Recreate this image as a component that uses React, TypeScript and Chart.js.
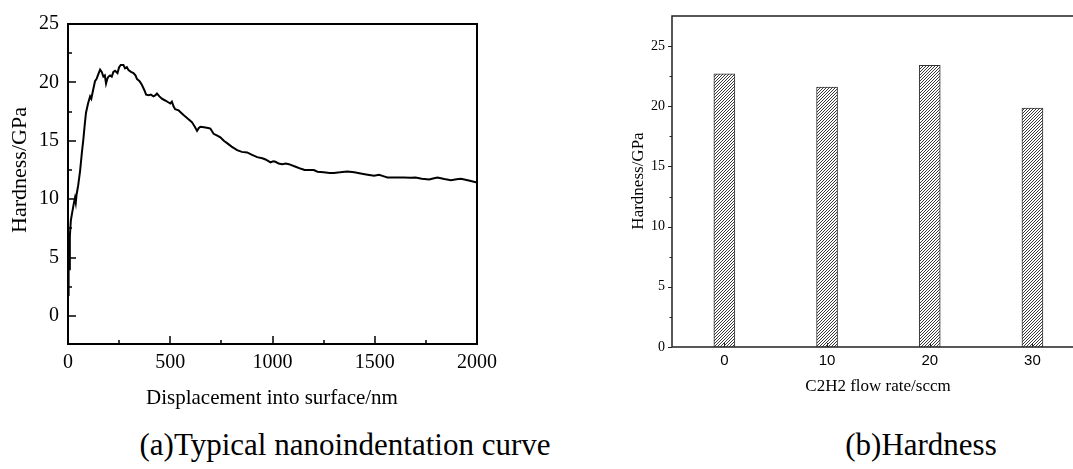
import React, { useEffect, useRef } from "react";
import { Chart, registerables } from "chart.js";

Chart.register(...registerables);

// ---------- (a) nanoindentation curve ----------
const dispX = [
  1, 2, 3, 4, 6, 9, 14, 20, 28, 34, 38, 42, 50, 59, 68, 75, 82, 88, 98, 108,
  114, 121, 132, 140, 146, 157, 165, 173, 180, 186, 192, 198, 206, 214, 222,
  230, 242, 250, 258, 271, 279, 288, 296, 308, 320, 330, 337, 350, 361, 373,
  382, 395, 405, 418, 428, 435, 447, 459, 475, 490, 500, 508, 516, 524, 541,
  553, 565, 585, 606, 620, 631, 640, 647, 665, 685, 696, 712, 730, 745, 762,
  778, 800, 827, 850, 876, 900, 925, 950, 966, 990, 1003, 1015, 1030, 1047,
  1065, 1080, 1110, 1140, 1157, 1180, 1202, 1220, 1250, 1280, 1300, 1330,
  1366, 1400, 1431, 1465, 1497, 1521, 1545, 1562, 1600, 1640, 1676, 1700,
  1730, 1766, 1790, 1807, 1840, 1873, 1900, 1922, 1960, 2000,
];
const hardY = [
  1.8, 4.5, 2.8, 5.2, 4.0, 6.8, 8.2, 8.8, 9.6, 10.1, 9.7, 10.4, 11.2, 12.4,
  14.0, 15.1, 16.4, 17.4, 18.2, 18.8, 18.6, 19.2, 20.1, 20.3, 20.6, 21.1, 20.9,
  20.5, 20.6, 19.9, 20.3, 20.5, 20.6, 20.5, 20.9, 21.0, 20.8, 21.3, 21.5, 21.5,
  21.2, 21.3, 21.05, 20.9, 20.8, 20.6, 20.3, 20.1, 19.8, 19.35, 18.95, 18.9,
  18.95, 18.8, 18.9, 19.05, 18.8, 18.6, 18.45, 18.3, 18.2, 18.35, 17.95, 17.7,
  17.6, 17.4, 17.2, 16.9, 16.6, 16.2, 15.85, 16.1, 16.2, 16.15, 16.1, 16.05,
  15.6, 15.45, 15.3, 15.0, 14.8, 14.5, 14.2, 14.05, 14.0, 13.8, 13.6, 13.5,
  13.4, 13.15, 13.25, 13.2, 13.05, 13.0, 13.05, 13.0, 12.8, 12.6, 12.5, 12.5,
  12.5, 12.35, 12.3, 12.25, 12.25, 12.3, 12.38, 12.3, 12.2, 12.1, 12.0, 12.08,
  11.95, 11.86, 11.85, 11.85, 11.83, 11.85, 11.75, 11.69, 11.8, 11.86, 11.72,
  11.63, 11.7, 11.74, 11.6, 11.43,
];
const leftXMajor = [0, 500, 1000, 1500, 2000];
const leftXMinor = [250, 750, 1250, 1750];
const leftYMajor = [0, 5, 10, 15, 20, 25];
const leftYMinor = [2.5, 7.5, 12.5, 17.5, 22.5];

// ---------- (b) hardness bars ----------
const flowRates = [0, 10, 20, 30];
const hardness = [22.7, 21.6, 23.4, 19.85];
const rightYMajor = [0, 5, 10, 15, 20, 25];
const rightYMinor = [2.5, 7.5, 12.5, 17.5, 22.5];

const SERIF = "'Liberation Serif', 'Times New Roman', serif";
const SANS = "'Liberation Sans', Arial, sans-serif";

const plain = (v: any) => String(v);

const leftDecor = {
  id: "leftDecor",
  afterDraw(chart: any) {
    const { ctx, chartArea: a, scales } = chart;
    const xs = scales.x;
    const ys = scales.y;
    ctx.save();
    ctx.strokeStyle = "#000";
    ctx.lineWidth = 2;
    ctx.strokeRect(a.left, a.top, a.right - a.left, a.bottom - a.top);
    ctx.lineWidth = 1.5;
    ctx.beginPath();
    leftXMajor.forEach((v) => {
      const p = Math.round(xs.getPixelForValue(v));
      ctx.moveTo(p, a.bottom);
      ctx.lineTo(p, a.bottom - 8);
    });
    leftXMinor.forEach((v) => {
      const p = Math.round(xs.getPixelForValue(v));
      ctx.moveTo(p, a.bottom);
      ctx.lineTo(p, a.bottom - 4);
    });
    leftYMajor.forEach((v) => {
      const p = Math.round(ys.getPixelForValue(v));
      ctx.moveTo(a.left, p);
      ctx.lineTo(a.left + 8, p);
    });
    leftYMinor.forEach((v) => {
      const p = Math.round(ys.getPixelForValue(v));
      ctx.moveTo(a.left, p);
      ctx.lineTo(a.left + 4, p);
    });
    ctx.stroke();

    ctx.fillStyle = "#000";
    ctx.textAlign = "center";
    ctx.textBaseline = "middle";
    ctx.font = `21px ${SERIF}`;
    ctx.fillText("Displacement into surface/nm", 272, 398);
    ctx.translate(20, 170);
    ctx.rotate(-Math.PI / 2);
    ctx.font = `22px ${SERIF}`;
    ctx.fillText("Hardness/GPa", 0, 0);
    ctx.restore();
  },
};

const rightDecor = {
  id: "rightDecor",
  afterDraw(chart: any) {
    const { ctx, chartArea: a, scales } = chart;
    const xs = scales.x;
    const ys = scales.y;
    ctx.save();
    ctx.strokeStyle = "#222";
    ctx.lineWidth = 1.5;
    ctx.beginPath();
    ctx.moveTo(a.right + 2, a.top);
    ctx.lineTo(a.left, a.top);
    ctx.lineTo(a.left, a.bottom);
    ctx.lineTo(a.right + 2, a.bottom);
    ctx.stroke();
    ctx.lineWidth = 1;
    ctx.beginPath();
    rightYMajor.forEach((v) => {
      const p = Math.round(ys.getPixelForValue(v)) + 0.5;
      ctx.moveTo(a.left, p);
      ctx.lineTo(a.left - 4, p);
    });
    rightYMinor.forEach((v) => {
      const p = Math.round(ys.getPixelForValue(v)) + 0.5;
      ctx.moveTo(a.left, p);
      ctx.lineTo(a.left - 2.5, p);
    });
    flowRates.forEach((v) => {
      const p = Math.round(xs.getPixelForValue(v)) + 0.5;
      ctx.moveTo(p, a.bottom);
      ctx.lineTo(p, a.bottom - 4);
    });
    ctx.stroke();

    ctx.fillStyle = "#000";
    ctx.textAlign = "center";
    ctx.textBaseline = "middle";
    ctx.font = `17px ${SERIF}`;
    ctx.fillText("C2H2 flow rate/sccm", 318, 387);
    ctx.translate(79, 181);
    ctx.rotate(-Math.PI / 2);
    ctx.fillText("Hardness/GPa", 0, 0);
    ctx.restore();
  },
};

function makeHatch(ctx: CanvasRenderingContext2D) {
  const s = 3;
  const c = document.createElement("canvas");
  c.width = s;
  c.height = s;
  const g = c.getContext("2d")!;
  g.fillStyle = "#fff";
  g.fillRect(0, 0, s, s);
  g.strokeStyle = "#222";
  g.lineWidth = 0.9;
  g.beginPath();
  g.moveTo(0, s);
  g.lineTo(s, 0);
  g.moveTo(-1, 1);
  g.lineTo(1, -1);
  g.moveTo(s - 1, s + 1);
  g.lineTo(s + 1, s - 1);
  g.stroke();
  return ctx.createPattern(c, "repeat");
}

export default function App() {
  const leftRef = useRef<HTMLCanvasElement>(null);
  const rightRef = useRef<HTMLCanvasElement>(null);

  useEffect(() => {
    const left = new Chart(leftRef.current!, {
      type: "line",
      data: {
        datasets: [
          {
            data: dispX.map((x, i) => ({ x, y: hardY[i] })),
            borderColor: "#000",
            borderWidth: 2,
            pointRadius: 0,
            tension: 0,
            fill: false,
          },
        ],
      },
      options: {
        animation: false,
        responsive: false,
        devicePixelRatio: 1,
        layout: { padding: { left: 0, top: 24, right: 63, bottom: 0 } },
        plugins: { legend: { display: false }, tooltip: { enabled: false } },
        scales: {
          x: {
            type: "linear",
            min: 0,
            max: 2000,
            grid: { display: false, drawTicks: false },
            border: { display: false },
            ticks: {
              font: { family: SERIF, size: 20 },
              color: "#000",
              padding: 7,
              autoSkip: false,
              maxRotation: 0,
              callback: plain,
            },
            afterBuildTicks: (s: any) => {
              s.ticks = leftXMajor.map((v) => ({ value: v }));
            },
            afterFit: (s: any) => {
              s.height = 76;
            },
          },
          y: {
            type: "linear",
            min: -2.4,
            max: 25,
            grid: { display: false, drawTicks: false },
            border: { display: false },
            ticks: {
              font: { family: SERIF, size: 20 },
              color: "#000",
              padding: 9,
              autoSkip: false,
              callback: plain,
            },
            afterBuildTicks: (s: any) => {
              s.ticks = leftYMajor.map((v) => ({ value: v }));
            },
            afterFit: (s: any) => {
              s.width = 68;
            },
          },
        },
      } as any,
      plugins: [leftDecor],
    });

    const rctx = rightRef.current!.getContext("2d")!;
    const hatch = makeHatch(rctx);
    const right = new Chart(rightRef.current!, {
      type: "bar",
      data: {
        datasets: [
          {
            data: flowRates.map((x, i) => ({ x, y: hardness[i] })),
            backgroundColor: hatch as any,
            borderColor: "#333",
            borderWidth: 1,
            barThickness: 21,
          },
        ],
      },
      options: {
        animation: false,
        responsive: false,
        devicePixelRatio: 1,
        layout: { padding: { left: 0, top: 16, right: 0, bottom: 0 } },
        plugins: { legend: { display: false }, tooltip: { enabled: false } },
        scales: {
          x: {
            type: "linear",
            min: -5.1,
            max: 33.95,
            offset: false,
            grid: { display: false, drawTicks: false },
            border: { display: false },
            ticks: {
              font: { family: SANS, size: 15 },
              color: "#000",
              padding: 5,
              autoSkip: false,
              maxRotation: 0,
              callback: plain,
            },
            afterBuildTicks: (s: any) => {
              s.ticks = flowRates.map((v) => ({ value: v }));
            },
            afterFit: (s: any) => {
              s.height = 73;
            },
          },
          y: {
            type: "linear",
            min: 0,
            max: 27.5,
            grid: { display: false, drawTicks: false },
            border: { display: false },
            ticks: {
              font: { family: SERIF, size: 14 },
              color: "#000",
              padding: 7,
              autoSkip: false,
              callback: plain,
            },
            afterBuildTicks: (s: any) => {
              s.ticks = rightYMajor.map((v) => ({ value: v }));
            },
            afterFit: (s: any) => {
              s.width = 112;
            },
          },
        },
      } as any,
      plugins: [rightDecor],
    });

    return () => {
      left.destroy();
      right.destroy();
    };
  }, []);

  const caption: React.CSSProperties = {
    position: "absolute",
    top: 429,
    fontFamily: SERIF,
    fontSize: 31,
    lineHeight: "31px",
    color: "#000",
    textAlign: "center",
    whiteSpace: "nowrap",
  };

  return (
    <div
      style={{
        position: "absolute",
        left: 0,
        top: 0,
        width: 1073,
        height: 469,
        overflow: "hidden",
        background: "#fff",
      }}
    >
      <canvas
        ref={leftRef}
        width={540}
        height={420}
        style={{ position: "absolute", left: 0, top: 0, width: 540, height: 420 }}
      />
      <canvas
        ref={rightRef}
        width={513}
        height={420}
        style={{ position: "absolute", left: 560, top: 0, width: 513, height: 420 }}
      />
      <div style={{ ...caption, left: 45, width: 600 }}>(a)Typical nanoindentation curve</div>
      <div style={{ ...caption, left: 721, width: 400 }}>(b)Hardness</div>
    </div>
  );
}
